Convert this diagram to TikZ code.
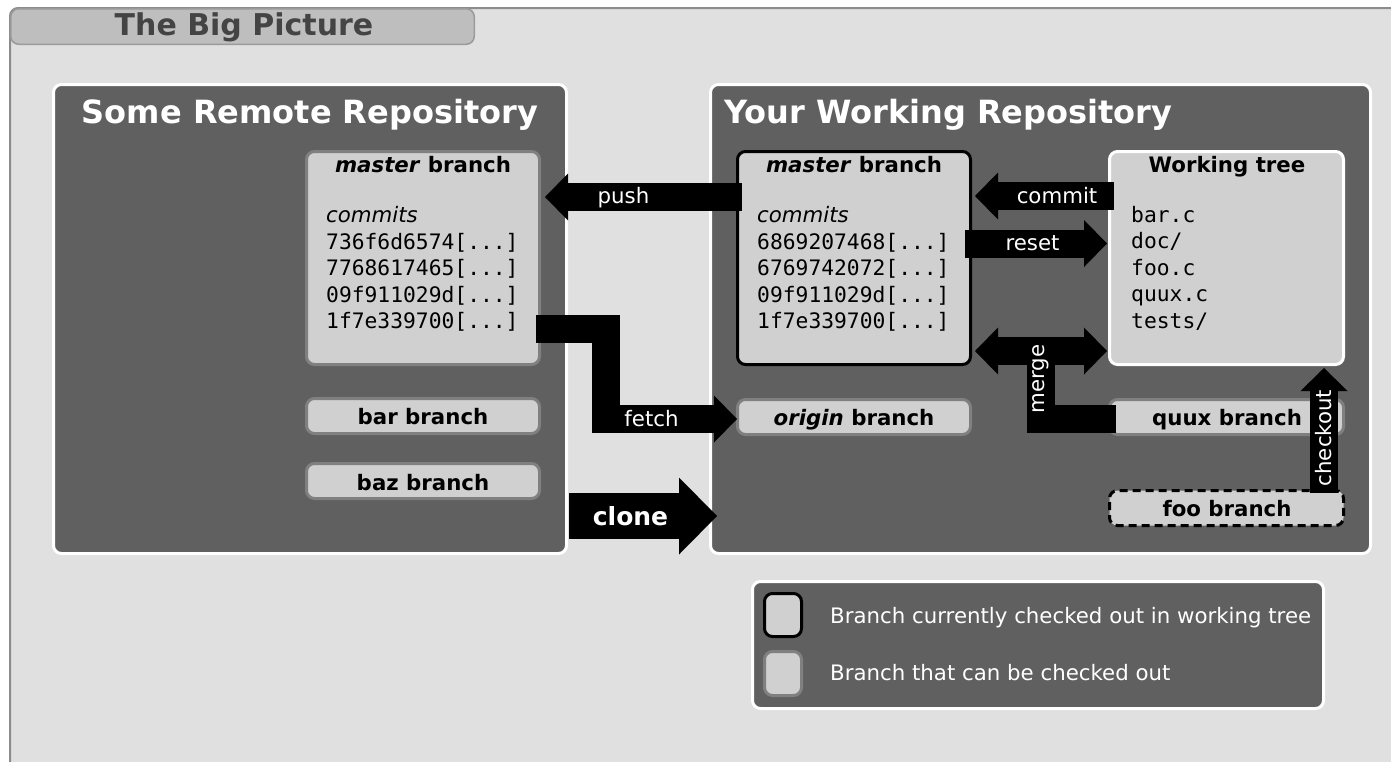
\documentclass[tikz,border=0pt]{standalone}
\usepackage{fontspec}
\setmainfont{DejaVu Sans}
\setmonofont{DejaVu Sans Mono}
\usetikzlibrary{arrows.meta}
\definecolor{bgc}{HTML}{E0E0E0}
\definecolor{panelc}{HTML}{606060}
\definecolor{boxc}{HTML}{D0D0D0}
\definecolor{bordc}{HTML}{808080}
\definecolor{framec}{HTML}{8C8C8C}
\definecolor{tabc}{HTML}{BEBEBE}
\definecolor{tabd}{HTML}{9A9A9A}
\definecolor{titc}{HTML}{444444}
\begin{document}
\begin{tikzpicture}[x=1pt,y=-1pt,
  panel/.style={draw=white, fill=panelc, line width=3pt, rounded corners=8pt, inner sep=0pt},
  brbox/.style={draw=bordc, fill=boxc, line width=3pt, rounded corners=8pt, inner sep=0pt},
  curbox/.style={brbox, draw=black},
  wtbox/.style={brbox, draw=white},
  foobox/.style={brbox, draw=black, dash pattern=on 8pt off 5pt},
  lbl/.style={font=\fontsize{21.3}{25}\selectfont\bfseries, text=black, inner sep=0pt, anchor=base},
  txt/.style={font=\fontsize{21.3}{25}\selectfont, inner sep=0pt, anchor=base west},
  mono/.style={font=\fontsize{21.3}{25}\selectfont\ttfamily, inner sep=0pt, anchor=base west},
  albl/.style={font=\fontsize{21.3}{25}\selectfont, text=white, inner sep=0pt, anchor=base},
  ptitle/.style={font=\fontsize{32}{38}\selectfont\bfseries, text=white, inner sep=0pt, anchor=base},
  blk/.style={draw=black, line width=28pt, line join=miter},
  headend/.style={-{Triangle[length=23pt,width=47pt,line width=0pt]}},
  dblhead/.style={{Triangle[length=23pt,width=47pt,line width=0pt]}-{Triangle[length=23pt,width=47pt,line width=0pt]}},
]
\useasboundingbox (0,0) rectangle (1391,761);
\clip (0,0) rectangle (1391,761);
\fill[white] (0,0) rectangle (1391,761);
% outer frame
\draw[fill=bgc, draw=framec, line width=2pt, rounded corners=8pt] (10,8) rectangle (1440,820);
\node[draw=tabd, fill=tabc, line width=1.5pt, rounded corners=8pt, minimum width=463.5pt, minimum height=35.5pt, inner sep=0pt] (tab) at (242.5,26.5) {};
\node[font=\fontsize{30}{36}\selectfont\bfseries, text=titc, anchor=base, inner sep=0pt] (title) at (244,35) {The Big Picture};

% panels
\node[panel, minimum width=513pt, minimum height=469pt] (remote) at (310,319) {};
\node[panel, minimum width=660pt, minimum height=469pt] (local) at (1040.5,319) {};
\node[ptitle] (rtitle) at (310,123) {Some Remote Repository};
\node[ptitle, anchor=base west] (ltitle) at (724,123) {Your Working Repository};

% remote branches
\node[brbox, minimum width=233pt, minimum height=213pt] (rmaster) at (423,258) {};
\node[lbl] (rmh) at (423,172.5) {\textit{master} branch};
\node[txt, font=\fontsize{21.3}{25}\selectfont\itshape] (rmc) at (326,222) {commits};
\node[mono] (rh1) at (326,249) {736f6d6574[...]};
\node[mono] (rh2) at (326,275.5) {7768617465[...]};
\node[mono] (rh3) at (326,302) {09f911029d[...]};
\node[mono] (rh4) at (326,328.5) {1f7e339700[...]};
\node[brbox, minimum width=233pt, minimum height=35pt] (bar) at (423,416) {};
\node[lbl] (barl) at (423,424.5) {bar branch};
\node[brbox, minimum width=233pt, minimum height=35pt] (baz) at (423,481) {};
\node[lbl] (bazl) at (423,490.5) {baz branch};

% local branches
\node[curbox, minimum width=233pt, minimum height=213pt] (lmaster) at (854,258) {};
\node[lbl] (lmh) at (854,172.5) {\textit{master} branch};
\node[txt, font=\fontsize{21.3}{25}\selectfont\itshape] (lmc) at (757,222) {commits};
\node[mono] (lh1) at (757,249) {6869207468[...]};
\node[mono] (lh2) at (757,275.5) {6769742072[...]};
\node[mono] (lh3) at (757,302) {09f911029d[...]};
\node[mono] (lh4) at (757,328.5) {1f7e339700[...]};
\node[wtbox, minimum width=234pt, minimum height=213pt] (wtree) at (1226.5,258) {};
\node[lbl] (wth) at (1227,172.5) {Working tree};
\node[mono] (wf1) at (1131,222) {bar.c};
\node[mono] (wf2) at (1131,248.5) {doc/};
\node[mono] (wf3) at (1131,275) {foo.c};
\node[mono] (wf4) at (1131,301.5) {quux.c};
\node[mono] (wf5) at (1131,328) {tests/};
\node[brbox, minimum width=233pt, minimum height=35pt] (origin) at (854,417) {};
\node[lbl] (originl) at (854,425.5) {\textit{origin} branch};
\node[brbox, minimum width=234pt, minimum height=35pt] (quux) at (1226.5,417) {};
\node[lbl] (quuxl) at (1227,425.5) {quux branch};
\node[foobox, minimum width=234pt, minimum height=35pt] (foo) at (1226.5,508) {};
\node[lbl] (fool) at (1227,516.5) {foo branch};

% arrow end points
\coordinate (pushS) at (742,197);
\coordinate (pushE) at (545,197);
\coordinate (comS) at (1114,196);
\coordinate (comE) at (975,196);
\coordinate (resS) at (965,243.5);
\coordinate (resE) at (1107,243.5);
\coordinate (mrgL) at (975,351);
\coordinate (mrgR) at (1107,351);
\coordinate (mrgS) at (1116,419);
\coordinate (fetS) at (536,329);
\coordinate (fetE) at (737,419);
\coordinate (cloS) at (569,516);
\coordinate (cloE) at (717,516);
\coordinate (chkS) at (1324,493);
\coordinate (chkE) at (1324,368);

% arrows
\draw[blk, headend] (pushS) -- (pushE);
\node[albl] (pushl) at (623.5,203.5) {push};
\draw[blk, headend] (comS) -- (comE);
\node[albl] (coml) at (1057,203) {commit};
\draw[blk, headend] (resS) -- (resE);
\node[albl] (resl) at (1032.5,250.5) {reset};
\draw[blk] (mrgS) -| (1041,351);
\draw[blk, dblhead] (mrgL) -- (mrgR);
\node[albl, anchor=center, rotate=90] (mrgl) at (1041,379) {merge};
\draw[blk, headend] (fetS) -- (605.5,329) -- (605.5,419) -- (fetE);
\node[albl] (fetl) at (651.5,426) {fetch};
\draw[draw=black, line width=46pt, -{Triangle[length=38pt,width=77pt,line width=0pt]}] (cloS) -- (cloE);
\node[albl, font=\fontsize{25}{30}\selectfont\bfseries] (clol) at (630.5,525) {clone};
\draw[blk, headend] (chkS) -- (chkE);
\node[albl, anchor=center, rotate=90] (chkl) at (1324,438) {checkout};

% legend
\node[panel, minimum width=571pt, minimum height=127pt] (legend) at (1038,645) {};
\node[curbox, minimum width=37pt, minimum height=43pt] (lg1) at (783,615) {};
\node[brbox, minimum width=37pt, minimum height=44pt] (lg2) at (783,673.5) {};
\node[txt, text=white] (lt1) at (830,623.5) {Branch currently checked out in working tree};
\node[txt, text=white] (lt2) at (830,680.5) {Branch that can be checked out};
\end{tikzpicture}
\end{document}
